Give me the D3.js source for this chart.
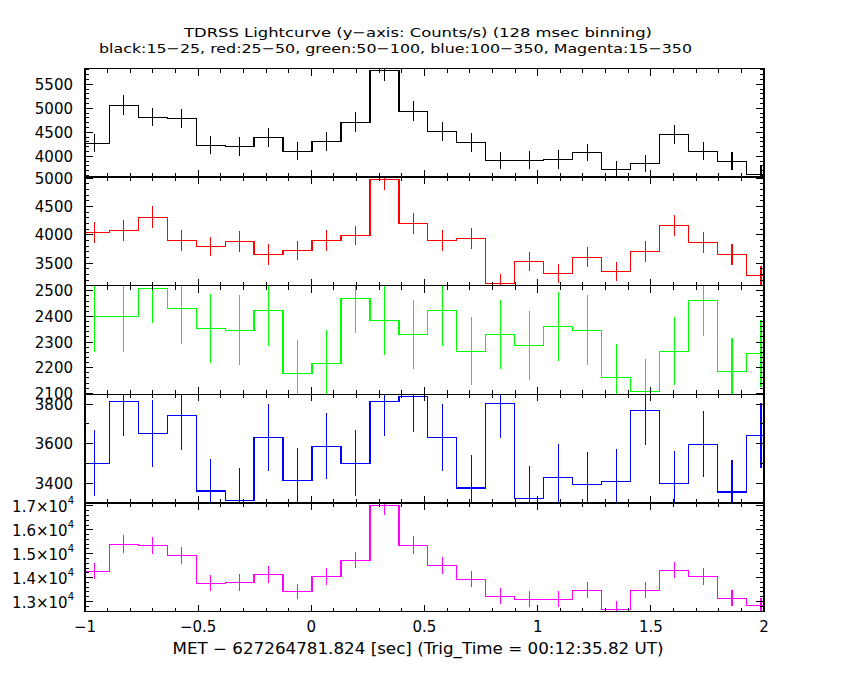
<!DOCTYPE html>
<html><head><meta charset="utf-8">
<script src="https://cdn.jsdelivr.net/npm/d3@7"></script>
<style>body{margin:0;background:#fff}svg{display:block}</style>
</head><body><svg id="c" width="850" height="680"></svg>
<script>
// ---- data ----
const binTimes = [-0.957,-0.829,-0.701,-0.573,-0.445,-0.317,-0.189,-0.061,0.067,0.195,0.323,0.451,0.579,0.707,0.835,0.963,1.091,1.219,1.347,1.475,1.603,1.731,1.859,1.987];
const binWidth = 0.128;

const black15_25 = [4271,5062,4812,4792,4229,4208,4396,4104,4312,4708,5792,4937,4521,4292,3917,3917,3937,4083,3729,3854,4458,4104,3896,3625];
const black15_25Err = [191,208,191,194,188,194,194,184,194,205,229,205,194,194,177,188,191,180,180,180,198,184,184,180];

const red25_50 = [4047,4082,4312,3906,3800,3888,3659,3729,3906,3994,4985,4206,3906,3941,3147,3535,3324,3606,3359,3712,4171,3871,3659,3288];
const red25_50Err = [180,185,193,182,173,182,182,173,182,173,199,190,182,182,164,167,167,176,164,182,190,182,182,164];

const green50_100 = [2400,2400,2509,2431,2353,2346,2424,2178,2217,2470,2385,2330,2424,2264,2330,2287,2361,2346,2162,2108,2264,2463,2186,2256];
const green50_100Err = [138,138,136,138,135,137,139,129,130,136,135,136,139,132,136,136,136,136,130,126,132,138,130,132];

const blue100_350 = [3501,3815,3652,3743,3360,3314,3632,3415,3587,3501,3814,3839,3632,3375,3804,3324,3430,3395,3410,3768,3400,3597,3355,3642];
const blue100_350Err = [166,175,171,173,163,163,171,163,167,166,173,178,171,166,173,163,166,163,163,175,163,167,163,166];

const magenta15_350 = [14267,15392,15350,14933,13767,13808,14142,13433,14058,14725,17017,15350,14517,13933,13225,13100,13100,13475,12683,13475,14308,14058,13142,12850];
const magenta15_350Err = [340,375,368,368,326,347,347,319,347,333,389,375,354,333,326,347,347,340,333,347,340,347,326,306];

const xTicks = [-1,-0.5,0,0.5,1,1.5,2];
const xTickLabels = ["\u22121","\u22120.5","0","0.5","1","1.5","2"];

const yTicks1 = [4000,4500,5000,5500];
const yTicks2 = [3500,4000,4500,5000];
const yTicks3 = [2100,2200,2300,2400,2500];
const yTicks4 = [3400,3600,3800];
const yTicks5 = [13000,14000,15000,16000,17000];
const yTickLabels5 = ["1.3","1.4","1.5","1.6","1.7"];

const titleText = "TDRSS Lightcurve (y\u2212axis: Counts/s) (128 msec binning)";
const subtitleText = "black:15\u221225, red:25\u221250, green:50\u2212100, blue:100\u2212350, Magenta:15\u2212350";
const xAxisTitle = "MET \u2212 627264781.824 [sec] (Trig_Time = 00:12:35.82 UT)";

// ---- layout ----
const L = 85, R = 764, T = 68.5, PH = 108.6;
const FONT = "DejaVu Sans, Liberation Sans, sans-serif";

const panels = [
  {vals: black15_25, errs: black15_25Err, color: "#000000", domain: [3567, 5829], major: yTicks1, minorStep: 100},
  {vals: red25_50, errs: red25_50Err, color: "#ff0000", domain: [3105, 5021], major: yTicks2, minorStep: 100},
  {vals: green50_100, errs: green50_100Err, color: "#00ff00", domain: [2096, 2520], major: yTicks3, minorStep: 20},
  {vals: blue100_350, errs: blue100_350Err, color: "#0000ff", domain: [3300, 3850], major: yTicks4, minorStep: 100},
  {vals: magenta15_350, errs: magenta15_350Err, color: "#ff00ff", domain: [12583, 17125], major: yTicks5, minorStep: 200, sci: true}
];

const svg = d3.select("#c");
svg.append("rect").attr("width", 850).attr("height", 680).attr("fill", "#fff");

const x = d3.scaleLinear().domain([-1, 2]).range([L, R]);
const xMinor = d3.range(-10, 21).map(d => d / 10);

panels.forEach((p, i) => {
  const top = T + i * PH, bot = top + PH;
  const y = d3.scaleLinear().domain(p.domain).range([bot, top]);
  const g = svg.append("g");
  const clipId = "clip" + i;
  svg.append("clipPath").attr("id", clipId).append("rect")
    .attr("x", L).attr("y", top).attr("width", R - L).attr("height", PH);
  const dg = g.append("g").attr("clip-path", `url(#${clipId})`);

  // histogram step line
  let d = "";
  binTimes.forEach((t, k) => {
    const x0 = x(t - binWidth / 2), x1 = x(t + binWidth / 2), yy = y(p.vals[k]);
    if (k === 0) d += `M${x0},${yy}`; else d += `V${yy}`;
    d += `H${x1}`;
  });
  dg.append("path").attr("d", d).attr("fill", "none").attr("stroke", p.color)
    .attr("stroke-width", 1.2).attr("shape-rendering", "crispEdges");

  // error bars
  dg.selectAll("line.err").data(binTimes).join("line").attr("class", "err")
    .attr("x1", t => x(t)).attr("x2", t => x(t))
    .attr("y1", (t, k) => y(p.vals[k] - p.errs[k]))
    .attr("y2", (t, k) => y(p.vals[k] + p.errs[k]))
    .attr("stroke", p.color).attr("stroke-width", 1.2).attr("shape-rendering", "crispEdges");

  // ticks
  const tg = g.append("g").attr("stroke", "#000").attr("stroke-width", 1).attr("shape-rendering", "crispEdges");
  xMinor.forEach(v => {
    const isMaj = Math.abs(v * 2 - Math.round(v * 2)) < 1e-6;
    const len = isMaj ? 7 : 4;
    tg.append("line").attr("x1", x(v)).attr("x2", x(v)).attr("y1", top).attr("y2", top + len);
    tg.append("line").attr("x1", x(v)).attr("x2", x(v)).attr("y1", bot).attr("y2", bot - len);
  });
  const minors = d3.range(Math.ceil(p.domain[0] / p.minorStep) * p.minorStep, p.domain[1], p.minorStep);
  minors.forEach(v => {
    const isMaj = p.major.includes(v);
    const len = isMaj ? 8 : 4;
    tg.append("line").attr("x1", L).attr("x2", L + len).attr("y1", y(v)).attr("y2", y(v));
    tg.append("line").attr("x1", R).attr("x2", R - len).attr("y1", y(v)).attr("y2", y(v));
  });

  // frame
  g.append("rect").attr("x", L).attr("y", top).attr("width", R - L).attr("height", PH)
    .attr("fill", "none").attr("stroke", "#000").attr("stroke-width", 1.5).attr("shape-rendering", "crispEdges");

  // y labels
  p.major.forEach((v, k) => {
    if (p.sci) {
      const tx = svg.append("text").attr("x", 74).attr("y", y(v) + 6)
        .attr("text-anchor", "end").attr("font-family", FONT).attr("font-size", 15).attr("fill", "#000");
      tx.append("tspan").text(yTickLabels5[k] + "\u00d710");
      tx.append("tspan").attr("dy", -8).attr("font-size", 10).text("4");
    } else {
      svg.append("text").attr("x", 73).attr("y", y(v) + 5.5)
        .attr("text-anchor", "end").attr("font-family", FONT).attr("font-size", 15).attr("fill", "#000")
        .text(v);
    }
  });
});

// x tick labels
xTicks.forEach((v, k) => {
  svg.append("text").attr("x", x(v)).attr("y", 632).attr("text-anchor", "middle")
    .attr("font-family", FONT).attr("font-size", 15).attr("fill", "#000").text(xTickLabels[k]);
});

svg.append("text").attr("x", 184).attr("y", 37).attr("font-family", FONT).attr("font-size", 13)
  .attr("textLength", 468).attr("lengthAdjust", "spacingAndGlyphs").text(titleText);
svg.append("text").attr("x", 99).attr("y", 52.5).attr("font-family", FONT).attr("font-size", 13)
  .attr("textLength", 593).attr("lengthAdjust", "spacingAndGlyphs").text(subtitleText);
svg.append("text").attr("x", 172.5).attr("y", 653.5).attr("font-family", FONT).attr("font-size", 15)
  .attr("textLength", 491).attr("lengthAdjust", "spacingAndGlyphs").text(xAxisTitle);
</script></body></html>
